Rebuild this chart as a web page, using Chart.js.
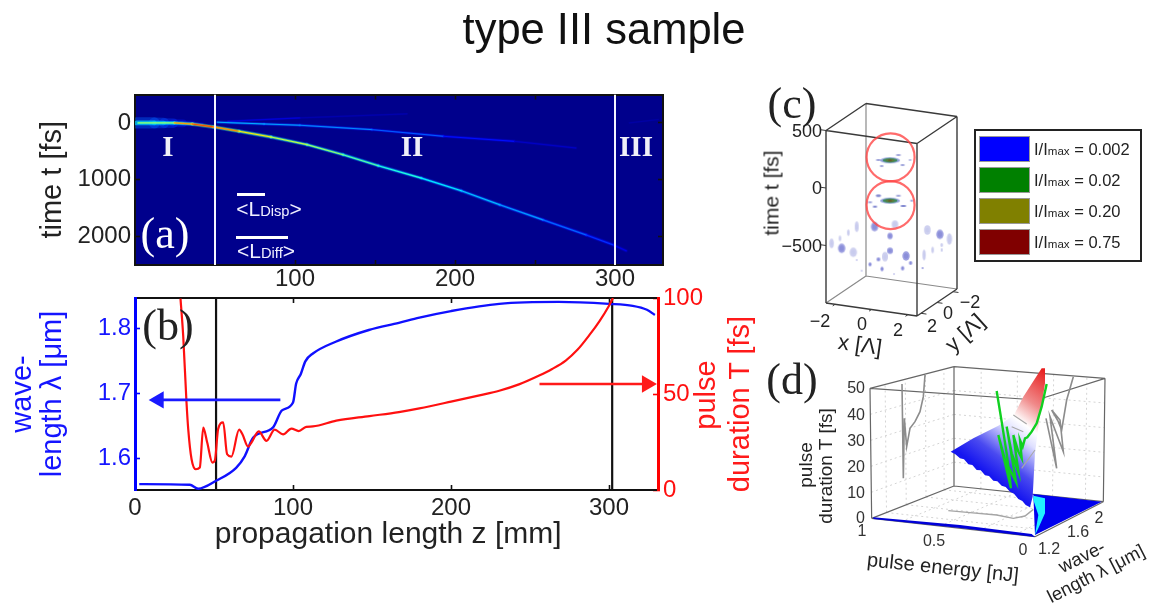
<!DOCTYPE html>
<html>
<head>
<meta charset="utf-8">
<title>type III sample</title>
<script src="https://cdn.jsdelivr.net/npm/chart.js@4"></script>
<style>
html,body{margin:0;padding:0;background:#fff;overflow:hidden}
#stage{position:relative;width:1149px;height:610px;overflow:hidden;filter:blur(.45px);font-family:"Liberation Sans",Arial,sans-serif;color:#222}
canvas{position:absolute}
.t{position:absolute;white-space:nowrap;line-height:1}
.t sub{font-size:70%;vertical-align:-18%;line-height:0}
.bar{position:absolute;background:#fff}
</style>
</head>
<body>
<div id="stage">
<canvas id="ca" width="720" height="240" style="left:0;top:60px"></canvas>
<canvas id="cb" width="790" height="290" style="left:0;top:270px"></canvas>
<canvas id="cc" width="230" height="270" style="left:760px;top:85px"></canvas>
<canvas id="cd" width="389" height="260" style="left:760px;top:350px"></canvas>
</div>
<script>
/* ---------- panel (a): t against z ---------- */
const aTicksX = [50,100,150,200,250,300];
const aTickLabels = [100,200,300];
const aTicksY = [0,1000,2000];
const aBoundaries = [50,300];
const mainZ = [2,24.6,35.8,49,65,85,107.5,130,152,179,204,228,255,282,299,307];
const mainT = [0,0,18,70,147,247,382,559,753,971,1194,1441,1706,1971,2147,2250];
const mainLevel = [.42,.62,.82,.78,.7,.58,.54,.5,.44,.38,.33,.3,.25,.2,.15,.05];
const secondZ = [51.5,80.6,103,148,192.6,237,275.5];
const secondT = [-12,18,41,118,235,324,441];
const secondLevel = [.3,.29,.27,.25,.18,.1,.04];
const faintZ = [58,103,170];
const faintT = [-29,-88,-159];
const faintLevel = [.12,.08,.02];
const endZ = [309,327];
const endT = [0,-59];
const endLevel = [.02,.06];
const launchZ = [1,6,12,18,24,30,36,42];
const launchT = [0,0,0,2,4,8,14,22];
const launchLevel = [.3,.3,.28,.25,.2,.15,.1,.05];

/* ---------- panel (b) ---------- */
const bTicksX = [0,100,200,300];
const bTicksTop = [100,200,300];
const lambdaTicks = [1.6,1.7,1.8];
const durationTicks = [0,50,100];
const blueZ = [2.7,34.7,40,51.6,64,69.5,74.7,87.4,93,100,102,105,107.8,112.6,127,148,167,180,200,230.5,268,300,315,324,329];
const blueLambda = [1.561,1.56,1.554,1.5665,1.586,1.604,1.632,1.648,1.674,1.686,1.715,1.73,1.749,1.761,1.779,1.797,1.808,1.816,1.826,1.837,1.84,1.837,1.834,1.828,1.82];
const redZ = [28.8,30.5,32.6,33.7,35.8,38.5,41,43.2,45.7,49,50.5,52.6,55.8,58.3,61,65.9,68,71.6,73.7,78.3,83.2,88.4,93.7,99,103.6,108.4,112.6,127.4,148.4,167,180,200,218,230.5,243,255.8,264,272.6,280,287.4,294,300,302.5];
const redT = [99.7,80.4,45.6,31.6,16,10.8,11.7,32.5,24.7,14.3,15.2,31.7,35.2,18.6,17.4,31.4,29,22.6,24.7,30.5,25.6,31.4,29,32,30.7,32.9,33.1,36.1,38.5,40.6,42.5,46,49.3,51.7,55,59.6,63,67.4,73,80.5,88,96,100];
const blueArrowZ = [92,15];
const blueArrowLambda = [1.69,1.69];
const redArrowZ = [256,324];
const redArrowT = [55.2,55.2];
const bMarkers = [51.3,302];

/* ---------- panel (c): u,v are the plane of the oblique view ---------- */
const cloudU = [-3.29,-2.83,-2.37,-1.91,-.93,.19,-.08,1.97,2.66,3.18,2.76,-2.74,-2.1,-.08,-.36,-.72,.8,1.05,-1.18,-.52,.61,1.71,1.79,2.26,-1.64,.14,-1.91,2.76];
const cloudT = [-542,-499,-449,-397,-397,-377,-478,-426,-464,-504,-557,-585,-620,-606,-658,-681,-652,-713,-725,-765,-759,-757,-643,-600,-780,-809,-687,-600];
const cloudW = [2.3,1.3,1.3,2,3.7,3.3,2.7,3.3,3.7,2.7,1.3,3.7,3.7,3,3,2,3.7,1.7,1.7,1.7,1.7,1,1.7,1.3,.7,.7,.7,1];
const cloudH = [4.7,3,3.3,5.3,4.7,4,3.3,4.7,4.7,5.7,2,4.7,4.7,3.3,4.7,2,4.7,2,2,2.3,2.3,1,5.3,3.3,.7,.7,.7,2];
const cloudPale = [1,1,1,1,0,1,0,1,0,1,1,0,1,0,1,0,0,0,0,0,0,0,1,1,0,0,0,1];
const moteU = [-.72,.38,-.54,.61,1.02,-.72,.38,-.91,.65,-1.18,1.11];
const moteT = [183,226,130,139,183,-128,-128,-223,-217,-185,-171];
const moteW = [2.7,2.7,2,2.3,1.7,2.7,2.7,2.3,3,2.3,1.7];
const moteH = [.7,.7,.8,.8,.5,1.3,.8,1,1,.7,.7];
const coreU = [-.08,-.08];
const coreT = [180,-171];
const ringU = [-.05,-.05];
const ringT = [206,-209];
const levelNames = ["0.002","0.02","0.20","0.75"];
const levelColours = ["#0000ff","#008000","#808000","#800000"];
const xTicks3d = [-2,0,2];
const yTicks3d = [-2,0,2];

/* ---------- panel (d): u,v are the plane of the perspective view ---------- */
const cornerU = {left:335,leftTop:330,back:582,backTop:582,right:1030,rightTop:1035,front:825,frontTop:830};
const cornerV = {left:505,leftTop:115,back:408,backTop:50,right:455,rightTop:85,front:560,frontTop:150};
const greenU = [710,725,740,753,715,735,768,740,755,775,760,775,785,780,788,795,802,815,830,845,860];
const greenV = [123,215,310,415,255,330,395,230,310,365,255,305,325,270,290,265,262,245,220,170,102];
const grayLeftU = [426,430,433,440,450,465,480,490,495];
const grayLeftV = [102,385,205,290,235,215,185,140,75];
const grayRightU = [858,890,870,910,900,875,895,905,920,940];
const grayRightV = [205,355,200,305,210,180,215,240,150,80];
const grayFloorU = [565,630,710,760,795,820];
const grayFloorV = [482,488,495,505,498,478];
const sheetU = [572,640,715,762,790,845,855,855,835,825,818,810,797,787,775,762,750,737,725,712,700,687,675,662,650,637,625,612,600,586];
const sheetV = [305,265,227,195,140,55,55,100,230,310,440,472,465,453,447,431,425,411,407,394,392,378,376,361,360,345,343,328,325,313];
const floorBlueU = [820,1025,825];
const floorBlueV = [432,455,555];
const floorCyanU = [820,855,855,835,825,835,820];
const floorCyanV = [437,445,490,535,555,495,450];
const stripU = [340,600,815,825,600,340];
const stripV = [502,525,552,561,534,507];

/* ---------- helpers ---------- */
Chart.defaults.font.family = '"Liberation Sans",Arial,sans-serif';
Chart.defaults.animation = false;
Chart.defaults.plugins.legend.display = false;
Chart.defaults.plugins.tooltip.enabled = false;
Chart.defaults.layout.autoPadding = false;
const stage = document.getElementById('stage');
function label(html,x,y,o={}){
  const d=document.createElement('div');d.className='t';d.innerHTML=html;
  d.style.cssText=`left:${x}px;top:${y}px;font-size:${o.size||20}px;color:${o.color||'#222'};`+
    `font-family:${o.serif?'"Liberation Serif",serif':'"Liberation Sans",Arial,sans-serif'};`+
    `font-weight:${o.bold?'bold':'normal'};transform:translate(${o.ax===undefined?-50:o.ax}%,-50%) rotate(${o.rot||0}deg);`;
  stage.appendChild(d);return d;
}
function zip(a,b){return a.map((v,i)=>({x:v,y:b[i]}));}
function clamp(v){return Math.max(0,Math.min(1,v));}
function jet(i,a=1){
  const r=clamp(1.5-Math.abs(4*i-3)),g=clamp(1.5-Math.abs(4*i-2)),b=clamp(1.5-Math.abs(4*i-1));
  return `rgba(${r*255|0},${g*255|0},${b*255|0},${a})`;
}
function setTicks(vals){return s=>{s.ticks=vals.map(v=>({value:v}));};}
function fixW(w){return s=>{s.width=w;};}
function fixH(h){return s=>{s.height=h;};}
function tickGrid(col,w=1.6){return {display:true,drawOnChartArea:false,drawTicks:true,tickLength:-5,tickWidth:w,tickColor:col,color:col};}
function plainLine(data,colour,width,extra={}){
  return Object.assign({data,showLine:true,borderColor:colour,borderWidth:width,pointRadius:0,fill:false,tension:0,spanGaps:false},extra);
}
function glowLayer(zs,ts,lv,f,w){
  return {data:zip(zs,ts),showLine:true,pointRadius:0,borderWidth:w,fill:false,borderColor:'#000',borderCapStyle:'round',
    segment:{borderColor:c=>f((lv[c.p0DataIndex]+lv[c.p1DataIndex])/2)}};
}

/* ---------- chart (a) ---------- */
const aDatasets = [];
function addTrace(zs,ts,lv,wide,mid,thin){
  aDatasets.push(glowLayer(zs,ts,lv,i=>jet(i*.55,.3),wide));
  aDatasets.push(glowLayer(zs,ts,lv,i=>jet(i*.8,.55),mid));
  aDatasets.push(glowLayer(zs,ts,lv,i=>jet(i,1),thin));
}
aDatasets.push(Object.assign(glowLayer(launchZ,launchT,launchLevel,i=>jet(i*.7,.4),14),{
  segment:{borderColor:c=>jet(launchLevel[c.p0DataIndex]*.75,.4),borderWidth:c=>Math.max(1.5,launchLevel[c.p0DataIndex]*38)}}));
aDatasets.push(Object.assign(glowLayer(launchZ,launchT,launchLevel,i=>jet(i*1.1,.6),8),{
  segment:{borderColor:c=>jet(launchLevel[c.p0DataIndex]*1.2,.6),borderWidth:c=>Math.max(1,launchLevel[c.p0DataIndex]*16)}}));
addTrace(faintZ,faintT,faintLevel,2.5,1.6,.8);
addTrace(endZ,endT,endLevel,2.5,1.6,.8);
addTrace(secondZ,secondT,secondLevel,3.5,2,1);
addTrace(mainZ,mainT,mainLevel,4,2.4,1.1);
aDatasets.push(plainLine(aBoundaries.slice(0,1).concat(aBoundaries[0]).map((z,i)=>({x:z,y:i?2500:-500})),'#f4f4ff',2));
aDatasets.push(plainLine(aBoundaries.slice(1).concat(aBoundaries[1]).map((z,i)=>({x:z,y:i?2500:-500})),'#f4f4ff',2));
aDatasets.reverse();

new Chart(document.getElementById('ca'),{
  type:'scatter',
  data:{datasets:aDatasets},
  options:{responsive:false,layout:{padding:{top:34.5,right:57,left:0,bottom:0}},
    scales:{
      x:{type:'linear',min:0,max:330,position:'bottom',afterFit:fixH(35),afterBuildTicks:setTicks(aTicksX),
        border:{color:'#111',width:2},grid:tickGrid('#111'),
        ticks:{autoSkip:false,maxRotation:0,padding:5,color:'#222',font:{size:24},callback:v=>aTickLabels.includes(v)?String(v):''}},
      x2:{type:'linear',min:0,max:330,position:'top',afterFit:fixH(0),afterBuildTicks:setTicks(aTicksX),
        border:{color:'#111',width:2},grid:tickGrid('#111'),ticks:{display:false}},
      y:{type:'linear',min:-500,max:2500,reverse:true,position:'left',afterFit:fixW(135),afterBuildTicks:setTicks(aTicksY),
        border:{color:'#111',width:2},grid:tickGrid('#111'),
        ticks:{autoSkip:false,padding:9,color:'#222',font:{size:24},callback:v=>String(v)},
        title:{display:true,text:'time t [fs]',color:'#222',font:{size:29},padding:{top:36,bottom:0}}},
      y2:{type:'linear',min:-500,max:2500,reverse:true,position:'right',afterFit:fixW(0),afterBuildTicks:setTicks(aTicksY),
        border:{color:'#111',width:2},grid:tickGrid('#111'),ticks:{display:false}}
    }},
  plugins:[{id:'plotBg',beforeDraw(c){const a=c.chartArea,x=c.ctx;x.save();x.fillStyle='#00008c';x.fillRect(a.left,a.top,a.right-a.left,a.bottom-a.top);x.restore();}}]
});

/* ---------- chart (b) ---------- */
new Chart(document.getElementById('cb'),{
  type:'scatter',
  data:{datasets:[
    plainLine(zip(redArrowZ,redArrowT),'#ff1a1a',2.6,{yAxisID:'yR',pointRadius:[0,10],pointStyle:'triangle',pointRotation:90,pointBackgroundColor:'#ff1a1a',pointBorderWidth:0}),
    plainLine(zip(blueArrowZ,blueArrowLambda),'#1a1aff',2.6,{pointRadius:[0,10],pointStyle:'triangle',pointRotation:-90,pointBackgroundColor:'#1a1aff',pointBorderWidth:0}),
    plainLine(zip(redZ,redT),'#ff1010',2.2,{yAxisID:'yR',cubicInterpolationMode:'monotone'}),
    plainLine(zip(blueZ,blueLambda),'#1010ff',2.4,{cubicInterpolationMode:'monotone'}),
    plainLine([{x:bMarkers[0],y:0},{x:bMarkers[0],y:100}],'#111',2.2,{yAxisID:'yR'}),
    plainLine([{x:bMarkers[1],y:0},{x:bMarkers[1],y:100}],'#111',2.2,{yAxisID:'yR'})
  ]},
  options:{responsive:false,layout:{padding:{top:28,left:0,right:0,bottom:0}},
    scales:{
      x:{type:'linear',min:0,max:331,position:'bottom',afterFit:fixH(70),afterBuildTicks:setTicks(bTicksX),
        border:{color:'#111',width:2},grid:tickGrid('#111'),
        ticks:{autoSkip:false,maxRotation:0,padding:9,color:'#222',font:{size:24},callback:v=>String(v)},
        title:{display:true,text:'propagation length z [mm]  ',color:'#222',font:{size:30},padding:{top:0,bottom:7}}},
      x2:{type:'linear',min:0,max:331,position:'top',afterFit:fixH(0),afterBuildTicks:setTicks(bTicksTop),
        border:{color:'#111',width:2},grid:tickGrid('#111'),ticks:{display:false}},
      y:{type:'linear',min:1.552,max:1.846,position:'left',afterFit:fixW(135),afterBuildTicks:setTicks(lambdaTicks),
        border:{color:'#0000ff',width:3},grid:tickGrid('#0000ff'),
        ticks:{autoSkip:false,padding:9,color:'#1515ff',font:{size:24},callback:v=>v.toFixed(1)},
        title:{display:true,text:['wave-','length λ [μm]'],color:'#1515ff',font:{size:29,lineHeight:1.03},padding:{top:8,bottom:0}}},
      yR:{type:'linear',min:0,max:100,position:'right',afterFit:fixW(132),afterBuildTicks:setTicks(durationTicks),
        border:{color:'#ff0000',width:3},grid:tickGrid('#ff0000'),
        ticks:{autoSkip:false,padding:10,color:'#ff1010',font:{size:24},callback:v=>String(v)}}
    }}
});

/* ---------- chart (c) ---------- */
function ellipse(rx,ry,paint){
  const c=document.createElement('canvas');c.width=Math.ceil(rx*2+2);c.height=Math.ceil(ry*2+2);
  const x=c.getContext('2d');
  paint.forEach(([f,col])=>{x.fillStyle=col;x.beginPath();x.ellipse(c.width/2,c.height/2,rx*f,ry*f,0,0,7);x.fill();});
  return c;
}
const proj = (x,y,t)=>({x:x-8*y/18.2,y:t-(2.6*x+5.4*y)/.115});
const BR3=2.5,tLo=-1000,tHi=500;
function edgeSet(list){const out=[];list.forEach(([a,b])=>{out.push(proj(...a),proj(...b),{x:NaN,y:NaN});});return out;}
const FLl=[-BR3,BR3,tLo],FRl=[BR3,BR3,tLo],BRl=[BR3,-BR3,tLo],BLl=[-BR3,-BR3,tLo];
const FLh=[-BR3,BR3,tHi],FRh=[BR3,BR3,tHi],BRh=[BR3,-BR3,tHi],BLh=[-BR3,-BR3,tHi];
const frontEdges=[[FLl,FLh],[FRl,FRh],[FLh,FRh],[FLh,BLh],[BLh,BRh],[FRh,BRh],[FLl,FRl],[FRl,BRl],[BRl,BRh]];
const backEdges=[[BLl,BLh],[FLl,BLl],[BLl,BRl]];
const tickEdges=xTicks3d.map(v=>[[v,BR3,tLo],[v,BR3+.3,tLo]]).concat(yTicks3d.map(v=>[[BR3,v,tLo],[BR3+.3,v,tLo]]));
const tTickEdges=[500,0,-500].map(t=>[[-BR3,BR3,t],[-BR3-.3,BR3,t]]);
const circleRing={pointRadius:24,pointStyle:'circle',pointBackgroundColor:'rgba(0,0,0,0)',pointBorderColor:'rgba(255,70,70,.8)',pointBorderWidth:2.2};
new Chart(document.getElementById('cc'),{
  type:'scatter',
  data:{datasets:[
    Object.assign({data:zip(ringU,ringT),showLine:false},circleRing),
    {data:zip(coreU,coreT),showLine:false,pointRadius:3,
      pointStyle:ellipse(10,3,[[1,'rgba(110,130,210,.75)'],[.75,'#3c8a5a'],[.45,'#5d7d3a'],[.2,'#7a3a1a']])},
    {data:zip(moteU,moteT),showLine:false,pointRadius:2,
      pointStyle:moteU.map((u,i)=>ellipse(moteW[i],moteH[i],[[1,'rgba(80,90,190,.75)']]))},
    {data:zip(cloudU,cloudT),showLine:false,pointRadius:2,
      pointStyle:cloudU.map((u,i)=>ellipse(cloudW[i],cloudH[i],cloudPale[i]
        ?[[1,'rgba(165,170,225,.55)'],[.55,'rgba(190,195,235,.35)']]
        :[[1,'rgba(125,130,215,.75)'],[.6,'rgba(110,115,205,.4)']]))},
    plainLine(edgeSet(frontEdges),'#3a3a3a',1.4),
    plainLine(edgeSet(tickEdges.concat(tTickEdges)),'#3a3a3a',1),
    plainLine(edgeSet(backEdges),'#8a8a8a',1.2)
  ]},
  options:{responsive:false,layout:{padding:0},
    scales:{x:{type:'linear',display:false,min:(760-891.5)/18.2,max:(990-891.5)/18.2},
            y:{type:'linear',display:false,min:(181-355)/.115,max:(181-85)/.115}}}
});

/* ---------- chart (d) ---------- */
const CU=cornerU,CV=cornerV;
const P=(k)=>({x:CU[k],y:CV[k]});
const mix=(a,b,f)=>({x:a.x+(b.x-a.x)*f,y:a.y+(b.y-a.y)*f});
const segs=(pairs)=>{const o=[];pairs.forEach(([a,b])=>o.push(a,b,{x:NaN,y:NaN}));return o;};
const gridFractions=[.2,.4,.6,.8];
const wallFractions=[.18,.42,.66,.88];
const dGrid=[];
gridFractions.forEach(f=>{
  dGrid.push([mix(P('left'),P('leftTop'),f),mix(P('back'),P('backTop'),f)]);
  dGrid.push([mix(P('back'),P('backTop'),f),mix(P('right'),P('rightTop'),f)]);
});
wallFractions.forEach(f=>{
  dGrid.push([mix(P('left'),P('back'),f),mix(P('leftTop'),P('backTop'),f)]);
  dGrid.push([mix(P('back'),P('right'),f),mix(P('backTop'),P('rightTop'),f)]);
  dGrid.push([mix(P('left'),P('back'),f),mix(P('front'),P('right'),f)]);
  dGrid.push([mix(P('left'),P('front'),f),mix(P('back'),P('right'),f)]);
});
const dBox=[['left','leftTop'],['back','backTop'],['right','rightTop'],['left','back'],['back','right'],['left','front'],['front','right'],
  ['leftTop','backTop'],['backTop','rightTop'],['leftTop','frontTop'],['frontTop','rightTop']].map(([a,b])=>[P(a),P(b)]);
const sheetEdges=[[{x:760,y:195},{x:800,y:222}],[{x:755,y:230},{x:790,y:245}],[{x:825,y:300},{x:785,y:355}]];
function poly(u,v,fill){return {data:zip(u,v),showLine:false,pointRadius:0,polygonFill:fill};}
const dSets=[
  plainLine(segs(dGrid),'#d4d4d4',1,{borderDash:[2,3]}),
  plainLine(segs(dBox),'#666',1.2),
  plainLine(zip(grayLeftU,grayLeftV),'#8c8c8c',1.6),
  plainLine(zip(grayRightU,grayRightV),'#8c8c8c',1.6),
  plainLine(zip(grayFloorU,grayFloorV),'#a5a5a5',1.4),
  poly(stripU,stripV,'#0000d8'),
  poly(floorBlueU,floorBlueV,'#0000ee'),
  poly(floorCyanU,floorCyanV,'#20f0ff'),
  poly(sheetU,sheetV,(x)=>{const g=x.createLinearGradient(850/3,60/3,640/3,340/3);
    g.addColorStop(0,'#e82020');g.addColorStop(.28,'#f08a8a');g.addColorStop(.47,'#ffffff');g.addColorStop(.58,'#dfe0ff');g.addColorStop(.82,'#4a4af0');g.addColorStop(1,'#1515f0');return g;}),
  plainLine(segs(sheetEdges),'#a8a8a8',1.1),
  plainLine(zip(greenU,greenV),'#10d020',2.4)
].reverse();
new Chart(document.getElementById('cd'),{
  type:'scatter',
  data:{datasets:dSets},
  options:{responsive:false,layout:{padding:0},
    scales:{x:{type:'linear',display:false,min:0,max:1167},y:{type:'linear',display:false,min:0,max:780,reverse:true}}},
  plugins:[{id:'polygonFill',afterDatasetDraw(c,args){
    const ds=c.data.datasets[args.index];if(!ds.polygonFill)return;
    const x=c.ctx,pts=args.meta.data;
    x.save();x.beginPath();pts.forEach((p,i)=>i?x.lineTo(p.x,p.y):x.moveTo(p.x,p.y));x.closePath();
    x.fillStyle=typeof ds.polygonFill==='function'?ds.polygonFill(x):ds.polygonFill;x.fill();x.restore();
  }}]
});

/* ---------- text that sits on the page ---------- */
label('type III sample',604,30,{size:43.5,color:'#111'});
label('(a)',165,234,{size:44,serif:true,color:'#fff'});
label('(b)',168,326,{size:44,serif:true,color:'#222'});
label('(c)',792,104,{size:44,serif:true,color:'#222'});
label('(d)',792,380,{size:44,serif:true,color:'#222'});
label('I',168,146,{size:29,serif:true,bold:true,color:'#f0f0f8'});
label('II',412,146,{size:29,serif:true,bold:true,color:'#f0f0f8'});
label('III',636,146,{size:29,serif:true,bold:true,color:'#f0f0f8'});
label('&lt;L<sub>Disp</sub>&gt;',269,208,{size:21,color:'#f0f0ff'});
label('&lt;L<sub>Diff</sub>&gt;',266,250,{size:21,color:'#f0f0ff'});
[[237,193,28],[236,236,52]].forEach(([l,t,w])=>{const b=document.createElement('div');b.className='bar';
  b.style.cssText=`left:${l}px;top:${t}px;width:${w}px;height:3px;`;stage.appendChild(b);});
label('pulse',705,395,{size:29,color:'#ff1a1a',rot:-90});
label('duration T [fs]',739,404,{size:29,color:'#ff1a1a',rot:-90});

/* (c) axis text */
label('500',822,131,{size:18,ax:-100});
label('0',822,188,{size:18,ax:-100});
label('−500',822,246,{size:18,ax:-100});
label('time t [fs]',771,193,{size:21,rot:-90});
label('−2',820,321,{size:18});label('0',862,324,{size:18});label('2',898,330,{size:18});
label('2',932,326,{size:18});label('0',948,313,{size:18});label('−2',970,302,{size:18});
label('x [Λ]',860,345,{size:22,rot:8});
label('y [Λ]',965,333,{size:22,rot:-42});

/* (c) legend */
const lg=document.createElement('div');
lg.style.cssText='position:absolute;left:974px;top:129px;width:164px;height:129px;border:2px solid #222;background:#fff;';
stage.insertBefore(lg,stage.firstChild);
levelNames.forEach((n,i)=>{
  const top=136+i*31;
  const s=document.createElement('div');
  s.style.cssText=`position:absolute;left:979px;top:${top}px;width:51px;height:26px;box-sizing:border-box;border:1px solid #999;background:${levelColours[i]};`;
  stage.appendChild(s);
  label(`I/I<sub>max</sub> = ${n}`,1034,top+13,{size:16.5,ax:0,color:'#222'});
});

/* (d) axis text */
[['50',115],['40',195],['30',272],['20',350],['10',428],['0',505]].forEach(([s,v])=>label(s,865,350+v/3,{size:16,ax:-100,color:'#333'}));
label('1',862,531,{size:16,color:'#333'});label('0.5',934,541,{size:16,color:'#333'});label('0',1023,550,{size:16,color:'#333'});
label('1.2',1049,549,{size:16,color:'#333'});label('1.6',1078,532,{size:16,color:'#333'});label('2',1099,518,{size:16,color:'#333'});
label('pulse',805,465,{size:19,rot:-90});
label('duration T [fs]',825,466,{size:19,rot:-90});
label('pulse energy [nJ]',943,567,{size:20,rot:6});
label('wave-',1082,557,{size:18.5,rot:-27});
label('length λ [μm]',1096,574,{size:18.5,rot:-27});
</script>
</body>
</html>
